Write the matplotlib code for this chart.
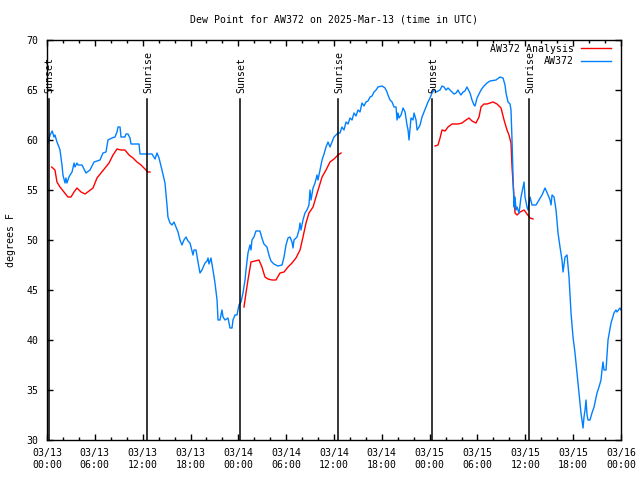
import matplotlib
matplotlib.use("Agg")
import matplotlib.pyplot as plt
from matplotlib.ticker import MultipleLocator

plt.rcParams['font.family'] = ['DejaVu Sans Mono']
fs = 7.1

title = 'Dew Point for AW372 on 2025-Mar-13 (time in UTC)'
ylabel = 'degrees F'

# hours since 03/13 00:00 UTC, dew point in degrees F
obs_hours = [
    0.0, 0.13, 0.38, 0.66, 0.88, 1.0, 1.25, 1.5, 1.63, 1.88, 2.0, 2.26, 2.38, 2.5, 2.76,
    2.89, 3.14, 3.39, 3.51, 3.76, 3.89, 4.39, 4.89, 5.39, 5.9, 6.65, 7.02, 7.4, 7.65,
    8.15, 8.53, 8.78, 8.91, 9.16, 9.28, 9.78, 9.91, 10.16, 10.41, 10.54, 10.79, 11.54,
    11.67, 12.67, 13.17, 13.55, 13.8, 14.05, 14.42, 14.8, 15.05, 15.17, 15.43, 15.68,
    15.93, 16.18, 16.43, 16.68, 16.93, 17.18, 17.44, 17.69, 17.94, 18.31, 18.44, 18.69,
    18.94, 19.19, 19.44, 19.82, 20.07, 20.2, 20.32, 20.57, 20.82, 21.07, 21.33, 21.45,
    21.7, 21.95, 22.08, 22.33, 22.7, 22.83, 22.96, 23.21, 23.33, 23.58, 23.83, 24.08,
    24.33, 24.58, 24.84, 24.96, 25.21, 25.46, 25.59, 25.71, 25.96, 26.21, 26.71, 26.96,
    27.21, 27.59, 27.84, 28.09, 28.46, 28.97, 29.48, 29.73, 29.98, 30.23, 30.48, 30.73,
    30.86, 30.98, 31.36, 31.61, 31.74, 31.86, 32.11, 32.36, 32.61, 32.86, 32.99, 33.12,
    33.37, 33.62, 33.87, 33.99, 34.24, 34.5, 34.75, 35.0, 35.25, 35.5, 35.75, 36.0,
    36.25, 36.5, 36.75, 37.0, 37.25, 37.51, 37.76, 38.01, 38.26, 38.51, 38.76, 39.01,
    39.26, 39.51, 39.76, 40.01, 40.26, 40.52, 40.77, 41.02, 41.27, 41.52, 42.02, 42.4,
    42.65, 42.77, 43.03, 43.28, 43.53, 43.78, 43.91, 44.03, 44.16, 44.41, 44.66, 44.91,
    45.16, 45.29, 45.41, 45.54, 45.66, 45.91, 46.04, 46.29, 46.42, 46.67, 46.79, 47.04,
    47.29, 47.54, 47.79, 48.04, 48.3, 48.55, 48.8, 49.05, 49.3, 49.55, 49.8, 50.05,
    50.3, 50.55, 50.8, 51.05, 51.31, 51.56, 51.68, 51.93, 52.18, 52.43, 52.68, 52.93,
    53.06, 53.31, 53.56, 53.69, 53.94, 54.19, 54.44, 54.81, 55.19, 55.57, 56.32, 56.82,
    57.2, 57.45, 57.58, 57.83, 58.08, 58.2, 58.33, 58.46, 58.58, 58.71, 58.83, 58.96,
    59.21, 59.46, 59.71, 59.84, 59.96, 60.21, 60.34, 60.59, 60.84, 61.34, 61.72, 62.09,
    62.47, 62.85, 63.1, 63.22, 63.35, 63.6, 63.85, 64.1, 64.35, 64.6, 64.73, 64.98,
    65.23, 65.48, 65.73, 65.98, 66.23, 66.48, 66.73, 66.98, 67.24, 67.36, 67.49, 67.61,
    67.74, 67.86, 68.11, 68.36, 68.62, 68.99, 69.24, 69.49, 69.62, 69.74, 69.87, 70.12,
    70.37, 70.75, 71.12, 71.37, 71.5, 71.87, 72.0,
]
obs_dewpt = [
    59.5, 59.7, 60.5, 60.9, 60.3, 60.5, 59.8, 59.3, 59.0, 57.5, 56.5, 55.7, 56.2, 55.7, 56.3,
    56.5, 56.8, 57.7, 57.3, 57.7, 57.5, 57.5, 56.7, 57.0, 57.8, 58.0, 58.7, 58.8, 60.0,
    60.2, 60.3, 60.8, 61.3, 61.3, 60.3, 60.3, 60.6, 60.6, 60.2, 59.6, 59.6, 59.6,
    58.6, 58.6, 58.6, 58.1, 58.7, 58.2, 57.0, 55.7, 53.5, 52.3, 51.7, 51.5,
    51.8, 51.3, 50.8, 50.0, 49.5, 50.0, 50.3, 49.9, 49.7, 48.5, 49.0, 49.0,
    47.8, 46.7, 47.0, 47.7, 47.9, 48.2, 47.6, 48.2, 47.0, 45.7, 44.0, 42.0,
    42.0, 43.0, 42.3, 42.0, 42.2, 41.7, 41.2, 41.2, 42.0, 42.5, 42.5, 43.5,
    43.8, 44.7, 46.0, 47.0, 48.7, 49.5, 49.0, 50.0, 50.3, 50.9, 50.9, 50.2,
    49.6, 49.3, 48.5, 47.9, 47.6, 47.4, 47.5, 48.3, 49.5, 50.2, 50.3, 49.8,
    49.2, 50.0, 50.3, 51.0, 51.7, 51.0, 52.0, 52.7, 53.0, 53.5, 55.0, 54.0,
    55.2, 55.7, 56.5, 56.0, 57.0, 58.0, 58.6, 59.3, 59.8, 59.3, 59.8, 60.3,
    60.5, 60.7, 60.7, 61.3, 61.0, 61.8, 61.6, 62.2, 62.0, 62.7, 62.4, 63.0,
    62.8, 63.7, 63.4, 63.8, 63.9, 64.3, 64.4, 64.8, 65.0, 65.3, 65.4, 65.2,
    64.8, 64.5, 64.0, 63.8, 63.3, 63.3, 62.0, 62.7, 62.2, 62.5, 63.2, 62.8,
    61.5, 61.0, 60.0, 61.2, 62.2, 62.0, 62.7, 62.0, 61.0, 61.3, 61.5, 62.3,
    62.8, 63.3, 63.8, 64.2, 64.7, 65.0, 64.8, 64.9, 65.0, 65.4, 65.3, 65.0,
    65.2, 65.0, 64.8, 64.6, 64.7, 65.0, 64.8, 64.5, 64.8, 64.9, 65.3, 64.9,
    64.7, 64.0, 63.5, 63.4, 64.2, 64.6, 65.0, 65.4, 65.7, 65.9, 66.0, 66.3,
    66.2, 65.5, 64.7, 63.8, 63.6, 63.0, 60.0, 56.3, 53.3, 54.3, 53.0, 53.3,
    52.7, 54.3, 55.3, 55.8, 54.3, 53.3, 53.0, 54.3, 53.5, 53.5, 54.0, 54.5,
    55.2, 54.5, 54.0, 53.5, 54.5, 54.3, 53.0, 50.7, 49.3, 48.0, 46.8, 48.3,
    48.5, 46.3, 42.7, 40.3, 38.7, 36.7, 34.7, 32.7, 31.2, 32.3, 33.0, 34.0,
    32.5, 32.0, 32.0, 32.7, 33.3, 34.7, 35.3, 36.0, 37.0, 37.8, 37.0, 37.0,
    40.0, 41.7, 42.7, 43.0, 42.8, 43.2, 43.0,
]

# analysis, three overnight segments
ana1_hours = [0.59, 1.0, 1.25, 1.63, 2.13, 2.63, 3.01, 3.39, 3.76, 4.27, 4.77, 5.27, 5.77,
              6.27, 6.77, 7.28, 7.78, 8.28, 8.78, 9.28, 9.78, 10.29, 10.79, 11.29, 11.79,
              12.29, 12.67, 12.92]
ana1_dewpt = [57.3, 57.0, 55.8, 55.3, 54.8, 54.3, 54.3, 54.8, 55.2, 54.8, 54.6, 54.9, 55.2,
              56.2, 56.7, 57.2, 57.7, 58.5, 59.1, 59.0, 59.0, 58.5, 58.2, 57.8, 57.5,
              57.1, 56.8, 56.8]
ana2_hours = [24.71, 24.96, 25.21, 25.59, 26.09, 26.59, 26.96, 27.34, 27.72, 28.22, 28.72,
              29.23, 29.73, 30.23, 30.73, 31.23, 31.74, 32.11, 32.49, 32.86, 33.37, 33.74,
              34.12, 34.5, 35.0, 35.5, 36.0, 36.5, 36.88]
ana2_dewpt = [43.3, 44.7, 46.0, 47.8, 47.9, 48.0, 47.3, 46.3, 46.1, 46.0, 46.0,
              46.7, 46.8, 47.3, 47.7, 48.2, 49.0, 50.3, 51.7, 52.7, 53.3, 54.3,
              55.3, 56.3, 57.0, 57.8, 58.1, 58.5, 58.7]
ana3_hours = [48.67, 49.05, 49.3, 49.55, 49.93, 50.3, 50.8, 51.56, 52.06, 52.56, 52.93,
              53.31, 53.81, 54.19, 54.44, 54.81, 55.19, 55.94, 56.45, 56.95, 57.33, 57.7,
              57.95, 58.2, 58.33, 58.46, 58.58, 58.71, 58.96, 59.34, 59.84, 60.21, 60.59,
              60.96]
ana3_dewpt = [59.4, 59.5, 60.2, 61.0, 60.9, 61.3, 61.6, 61.6, 61.7, 62.0, 62.2,
              61.9, 61.7, 62.3, 63.3, 63.6, 63.6, 63.8, 63.6, 63.2, 62.0, 61.0,
              60.5, 59.7, 57.3, 55.7, 54.3, 52.7, 52.5, 52.8, 53.0, 52.6, 52.2,
              52.1]

sun_hours = [0.2, 12.55, 24.2, 36.5, 48.35, 60.45]
sun_labels = ['Sunset', 'Sunrise', 'Sunset', 'Sunrise', 'Sunset', 'Sunrise']

xtick_hours = list(range(0, 73, 6))
xtick_labels = ['03/13\n00:00', '03/13\n06:00', '03/13\n12:00', '03/13\n18:00',
                '03/14\n00:00', '03/14\n06:00', '03/14\n12:00', '03/14\n18:00',
                '03/15\n00:00', '03/15\n06:00', '03/15\n12:00', '03/15\n18:00',
                '03/16\n00:00']

blue = '#0080ff'
red = '#ff0000'

fig = plt.figure(figsize=(6.4, 4.8), dpi=100)
ax = fig.add_axes([47 / 640, 40 / 480, 574 / 640, 400 / 480])

ax.plot(ana1_hours, ana1_dewpt, color=red, lw=1, label='AW372 Analysis')
ax.plot(ana2_hours, ana2_dewpt, color=red, lw=1)
ax.plot(ana3_hours, ana3_dewpt, color=red, lw=1)
ax.plot(obs_hours, obs_dewpt, color=blue, lw=1, label='AW372')

trans = ax.get_xaxis_transform()
for h, lab in zip(sun_hours, sun_labels):
    ax.axvline(h, ymin=0, ymax=0.8525, color='black', lw=1.1)
    ax.text(h + 0.15, 0.8675, lab, transform=trans, rotation=90,
            ha='center', va='bottom', fontsize=fs)

ax.set_xlim(0, 72)
ax.set_ylim(30, 70)
ax.set_xticks(xtick_hours)
ax.set_xticklabels(xtick_labels)
ax.xaxis.set_minor_locator(MultipleLocator(2))
ax.yaxis.set_major_locator(MultipleLocator(5))
ax.tick_params(which='both', direction='in', top=True, right=True, labelsize=fs)
ax.tick_params(which='major', length=4.5, width=1)
ax.tick_params(which='minor', length=2.5, width=1)
ax.tick_params(axis='x', pad=6)
ax.tick_params(axis='y', pad=6)
for sp in ax.spines.values():
    sp.set_linewidth(1)

ax.set_ylabel(ylabel, fontsize=fs)
ax.yaxis.set_label_coords(-0.054, 0.5)
ax.text(0.5, 1.05, title, transform=ax.transAxes, ha='center', va='center', fontsize=fs)

leg = ax.legend(loc='upper right', bbox_to_anchor=(1 - 6 / 574, 1.0),
                frameon=False, markerfirst=False, fontsize=fs,
                handlelength=3.05, handletextpad=0.7, labelspacing=0.25,
                borderaxespad=0.2, borderpad=0.2)

fig.savefig('out.png', dpi=100)
